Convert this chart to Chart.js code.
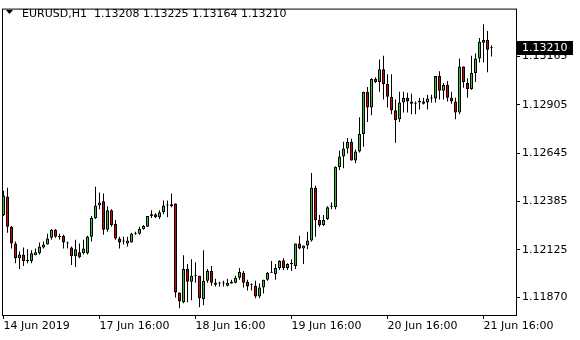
<!DOCTYPE html>
<html>
<head>
<meta charset="utf-8">
<script src="https://cdn.jsdelivr.net/npm/chart.js@4.4.1/dist/chart.umd.min.js"></script>
<style>
  html, body { margin: 0; padding: 0; background: #fff; }
  canvas { display: block; }
</style>
</head>
<body>
<canvas id="chart" width="580" height="340" style="width:580px;height:340px"></canvas>
<script>
// EURUSD H1 candles, one per hour
const symbolName = 'EURUSD,H1';

const opens = [
  1.12312, 1.12412, 1.12249, 1.12159, 1.12080, 1.12101, 1.12070, 1.12065, 1.12096, 1.12107,
  1.12138, 1.12154, 1.12191, 1.12233, 1.12196, 1.12201, 1.12159, 1.12138, 1.12091, 1.12112,
  1.12107, 1.12107, 1.12196, 1.12296, 1.12364, 1.12386, 1.12233, 1.12338, 1.12265, 1.12186,
  1.12170, 1.12159, 1.12165, 1.12212, 1.12212, 1.12238, 1.12249, 1.12307, 1.12317, 1.12301,
  1.12328, 1.12364, 1.12359, 1.12375, 1.11896, 1.11844, 1.12023, 1.11954, 1.11986, 1.11986,
  1.11860, 1.11959, 1.12012, 1.11949, 1.11944, 1.11944, 1.11933, 1.11944, 1.11949, 1.11975,
  1.12002, 1.11954, 1.11938, 1.11933, 1.11875, 1.11923, 1.11965, 1.12002, 1.11996, 1.12028,
  1.12070, 1.12028, 1.12049, 1.12038, 1.12159, 1.12133, 1.12149, 1.12175, 1.12459, 1.12286,
  1.12259, 1.12291, 1.12354, 1.12354, 1.12570, 1.12627, 1.12670, 1.12706, 1.12606, 1.12654,
  1.12748, 1.12975, 1.12890, 1.13043, 1.13027, 1.13096, 1.13017, 1.12948, 1.12875, 1.12827,
  1.12917, 1.12943, 1.12922, 1.12911, 1.12917, 1.12911, 1.12917, 1.12938, 1.12938, 1.13059,
  1.12980, 1.13011, 1.12943, 1.12922, 1.12864, 1.13111, 1.13022, 1.12990, 1.13075, 1.13153,
  1.13238, 1.13253, 1.13208
];
const highs = [
  1.12443, 1.12459, 1.12254, 1.12170, 1.12117, 1.12138, 1.12128, 1.12123, 1.12133, 1.12165,
  1.12170, 1.12212, 1.12238, 1.12238, 1.12212, 1.12207, 1.12170, 1.12144, 1.12180, 1.12159,
  1.12180, 1.12201, 1.12307, 1.12464, 1.12433, 1.12428, 1.12359, 1.12343, 1.12286, 1.12196,
  1.12196, 1.12196, 1.12217, 1.12222, 1.12249, 1.12259, 1.12307, 1.12338, 1.12322, 1.12338,
  1.12391, 1.12391, 1.12428, 1.12375, 1.11896, 1.12096, 1.12049, 1.12075, 1.12059, 1.11986,
  1.12123, 1.12023, 1.12038, 1.11970, 1.11954, 1.11959, 1.11970, 1.11965, 1.11986, 1.12028,
  1.12012, 1.11965, 1.11944, 1.11959, 1.11944, 1.11965, 1.12007, 1.12065, 1.12049, 1.12070,
  1.12080, 1.12054, 1.12075, 1.12159, 1.12201, 1.12149, 1.12222, 1.12538, 1.12470, 1.12312,
  1.12312, 1.12359, 1.12380, 1.12575, 1.12659, 1.12706, 1.12727, 1.12722, 1.12664, 1.12838,
  1.12975, 1.13001, 1.13048, 1.13053, 1.13148, 1.13169, 1.13069, 1.13069, 1.12933, 1.12975,
  1.12975, 1.12969, 1.12964, 1.12922, 1.12943, 1.12943, 1.12959, 1.12959, 1.13059, 1.13085,
  1.13022, 1.13032, 1.12975, 1.12943, 1.13153, 1.13111, 1.13048, 1.13169, 1.13180, 1.13264,
  1.13338, 1.13301, 1.13225
];
const lows = [
  1.12307, 1.12217, 1.12133, 1.12054, 1.12023, 1.12038, 1.12054, 1.12054, 1.12096, 1.12101,
  1.12133, 1.12154, 1.12180, 1.12191, 1.12180, 1.12133, 1.12133, 1.12044, 1.12033, 1.12080,
  1.12101, 1.12101, 1.12170, 1.12291, 1.12343, 1.12207, 1.12222, 1.12249, 1.12180, 1.12133,
  1.12154, 1.12144, 1.12165, 1.12207, 1.12207, 1.12233, 1.12249, 1.12296, 1.12296, 1.12291,
  1.12317, 1.12301, 1.12354, 1.11870, 1.11812, 1.11838, 1.11844, 1.11854, 1.11949, 1.11817,
  1.11828, 1.11949, 1.11933, 1.11928, 1.11928, 1.11928, 1.11928, 1.11944, 1.11944, 1.11965,
  1.11923, 1.11907, 1.11907, 1.11865, 1.11865, 1.11891, 1.11959, 1.12002, 1.11965, 1.12017,
  1.12017, 1.12017, 1.12012, 1.12023, 1.12128, 1.12049, 1.12128, 1.12170, 1.12196, 1.12249,
  1.12254, 1.12286, 1.12343, 1.12343, 1.12554, 1.12564, 1.12643, 1.12606, 1.12591, 1.12649,
  1.12680, 1.12812, 1.12848, 1.13022, 1.12975, 1.12933, 1.12890, 1.12854, 1.12701, 1.12812,
  1.12864, 1.12864, 1.12854, 1.12854, 1.12880, 1.12906, 1.12880, 1.12917, 1.12917, 1.12933,
  1.12933, 1.12922, 1.12911, 1.12827, 1.12854, 1.12996, 1.12943, 1.12985, 1.13027, 1.13132,
  1.13132, 1.13080, 1.13164
];
const closes = [
  1.12417, 1.12249, 1.12159, 1.12080, 1.12101, 1.12065, 1.12065, 1.12107, 1.12112, 1.12144,
  1.12154, 1.12186, 1.12233, 1.12196, 1.12194, 1.12165, 1.12159, 1.12091, 1.12128, 1.12086,
  1.12133, 1.12196, 1.12296, 1.12364, 1.12380, 1.12233, 1.12338, 1.12259, 1.12186, 1.12165,
  1.12175, 1.12175, 1.12212, 1.12212, 1.12238, 1.12254, 1.12307, 1.12317, 1.12301, 1.12328,
  1.12364, 1.12364, 1.12370, 1.11896, 1.11849, 1.12023, 1.11954, 1.11986, 1.11986, 1.11865,
  1.11959, 1.12012, 1.11949, 1.11938, 1.11944, 1.11944, 1.11949, 1.11954, 1.11975, 1.12007,
  1.11949, 1.11928, 1.11938, 1.11875, 1.11923, 1.11965, 1.12002, 1.12007, 1.12028, 1.12065,
  1.12028, 1.12049, 1.12049, 1.12159, 1.12133, 1.12149, 1.12175, 1.12459, 1.12286, 1.12259,
  1.12286, 1.12354, 1.12354, 1.12570, 1.12627, 1.12670, 1.12706, 1.12606, 1.12654, 1.12748,
  1.12975, 1.12890, 1.13043, 1.13027, 1.13096, 1.13017, 1.12948, 1.12875, 1.12822, 1.12917,
  1.12943, 1.12922, 1.12911, 1.12911, 1.12927, 1.12922, 1.12938, 1.12938, 1.13059, 1.12980,
  1.13011, 1.12943, 1.12922, 1.12864, 1.13111, 1.13027, 1.12990, 1.13075, 1.13153, 1.13243,
  1.13253, 1.13201, 1.13210
];

// axis ticks (bar index for the time axis)
const timeTickBars = [0, 24, 48, 72, 96, 120];
const timeTickLabels = ['14 Jun 2019', '17 Jun 16:00', '18 Jun 16:00', '19 Jun 16:00', '20 Jun 16:00', '21 Jun 16:00'];
const priceTicks = [1.11870, 1.12125, 1.12385, 1.12645, 1.12905, 1.13165];

const BULL = '#33c033';
const BEAR = '#dd0000';

const last = opens.length - 1;

// header text, frame and the current price box, drawn after the chart
const mtOverlay = {
    id: 'mtOverlay',
    afterDraw(chart) {
        const ctx = chart.ctx;
        const a = chart.chartArea;
        ctx.save();
        ctx.strokeStyle = '#000';
        ctx.lineWidth = 1;
        ctx.strokeRect(a.left + 0.5, a.top + 0.5, a.right - a.left, a.bottom - a.top);

        // small triangle + symbol + OHLC of the last bar
        ctx.fillStyle = '#000';
        ctx.beginPath();
        ctx.moveTo(6, 10);
        ctx.lineTo(13, 10);
        ctx.lineTo(9.5, 14);
        ctx.closePath();
        ctx.fill();
        ctx.font = '11px "DejaVu Sans"';
        ctx.textBaseline = 'alphabetic';
        ctx.textAlign = 'left';
        ctx.fillText(symbolName, 22, 17);
        const ohlc = [opens[last], highs[last], lows[last], closes[last]].map(v => v.toFixed(5)).join(' ');
        ctx.fillText(ohlc, 94, 17);

        // current price label
        const yScale = chart.scales.y;
        const py = Math.round(yScale.getPixelForValue(closes[last]));
        ctx.fillRect(a.right, py - 7, 57, 14);
        ctx.fillStyle = '#fff';
        ctx.textBaseline = 'middle';
        ctx.fillText(closes[last].toFixed(5), a.right + 6, py);
        ctx.restore();
    }
};

Chart.defaults.font.family = '"DejaVu Sans"';
Chart.defaults.font.size = 11;
Chart.defaults.color = '#000';

const wickData = opens.map((o, i) => ({ x: i, y: [lows[i], highs[i]] }));
const bodyData = opens.map((o, i) => ({ x: i, y: [o, closes[i]] }));
const bodyColors = opens.map((o, i) => closes[i] >= o ? BULL : BEAR);

new Chart(document.getElementById('chart'), {
    type: 'bar',
    data: {
        datasets: [
            {
                label: 'wick',
                data: wickData,
                backgroundColor: '#000',
                borderWidth: 0,
                barThickness: 1,
                inflateAmount: 0,
                order: 2
            },
            {
                label: 'body',
                data: bodyData,
                backgroundColor: bodyColors,
                borderColor: '#000',
                borderWidth: 1,
                borderSkipped: false,
                barThickness: 3,
                minBarLength: 1,
                inflateAmount: 0,
                order: 1
            }
        ]
    },
    options: {
        responsive: false,
        animation: false,
        layout: { padding: { left: 2, top: 2, right: 0, bottom: 0 } },
        plugins: { legend: { display: false }, tooltip: { enabled: false } },
        scales: {
            x: {
                type: 'linear',
                stacked: true,   // wick and body share one slot per bar
                offset: false,
                min: -0.375,
                max: 128.125,
                border: { display: false },
                grid: { drawOnChartArea: false, drawTicks: true, tickLength: 4, color: '#000', offset: false },
                afterBuildTicks: s => { s.ticks = timeTickBars.map(v => ({ value: v })); },
                afterFit: s => { s.height = 25; },
                ticks: {
                    autoSkip: false,
                    maxRotation: 0,
                    align: 'start',
                    padding: 1,
                    callback: v => timeTickLabels[timeTickBars.indexOf(v)]
                }
            },
            y: {
                position: 'right',
                stacked: false,
                min: 1.117753,
                max: 1.134217,
                border: { display: false },
                grid: { drawOnChartArea: false, drawTicks: true, tickLength: 4, color: '#000' },
                afterBuildTicks: s => { s.ticks = priceTicks.map(v => ({ value: v })); },
                afterFit: s => { s.width = 64; },
                ticks: {
                    padding: 2,
                    callback: v => v.toFixed(5)
                }
            }
        }
    },
    plugins: [mtOverlay]
});
</script>
</body>
</html>
